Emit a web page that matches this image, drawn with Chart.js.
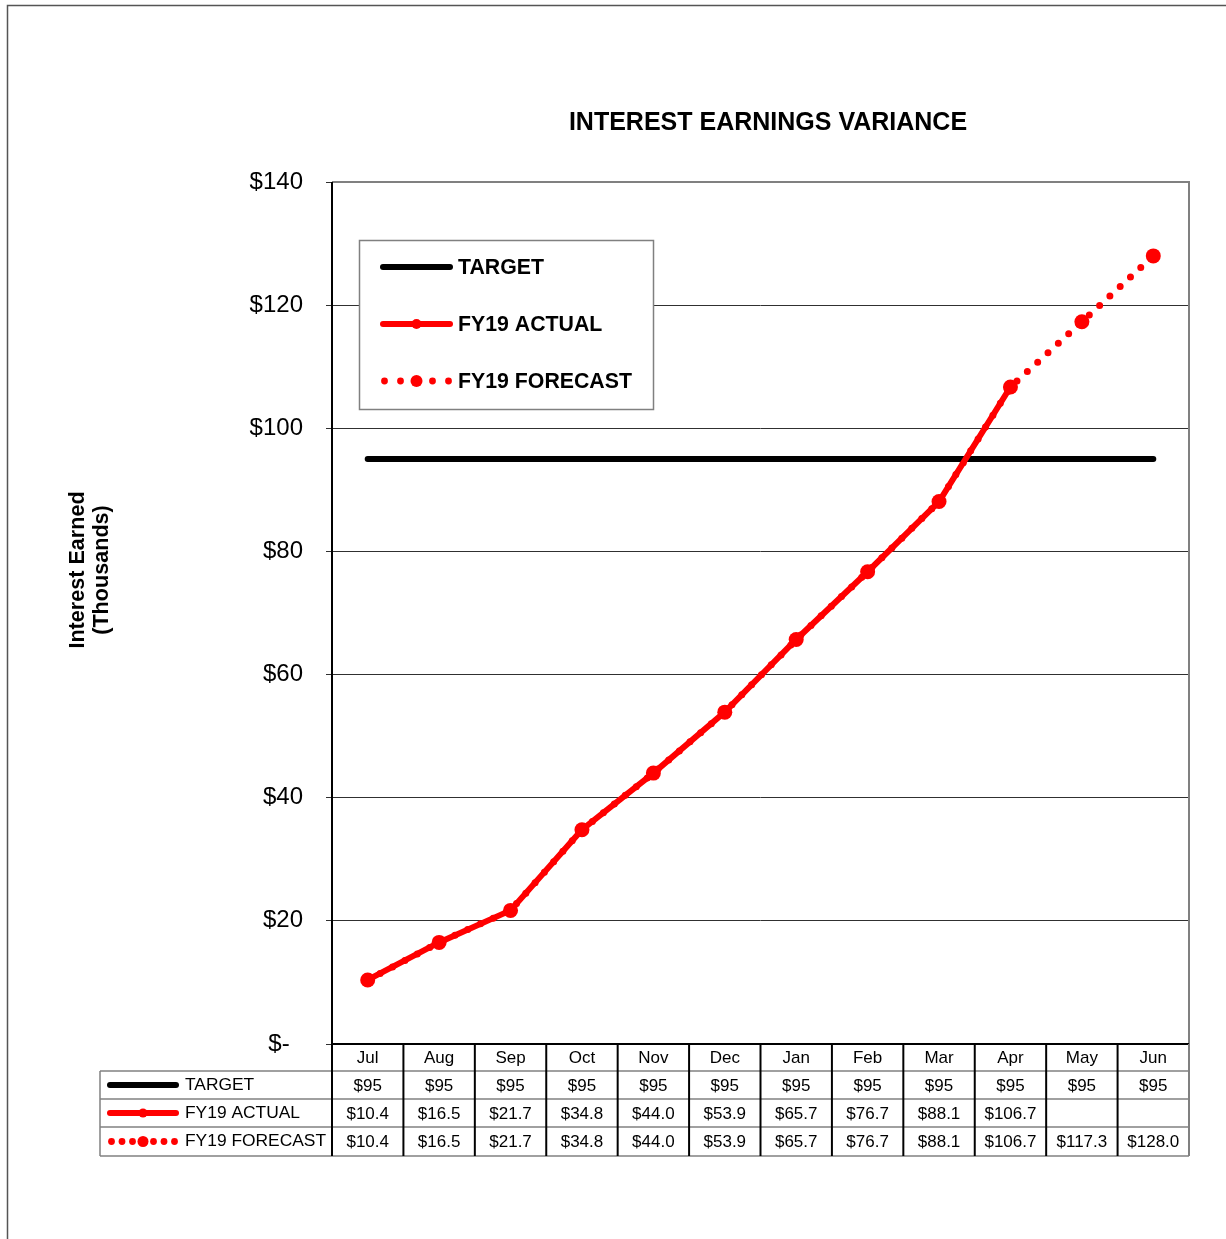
<!DOCTYPE html>
<html>
<head>
<meta charset="utf-8">
<script src="https://cdn.jsdelivr.net/npm/chart.js@4/dist/chart.umd.min.js"></script>
<style>
html,body{margin:0;padding:0;background:#fff;}
#wrap{position:relative;width:1226px;height:1239px;}
</style>
</head>
<body>
<div id="wrap"><canvas id="c"></canvas></div>
<script>
const months = ['Jul','Aug','Sep','Oct','Nov','Dec','Jan','Feb','Mar','Apr','May','Jun'];
const target = [95,95,95,95,95,95,95,95,95,95,95,95];
const actual = [10.4,16.5,21.7,34.8,44.0,53.9,65.7,76.7,88.1,106.7,null,null];
const forecast = [10.4,16.5,21.7,34.8,44.0,53.9,65.7,76.7,88.1,106.7,117.3,128.0];
const yTicks = [0,20,40,60,80,100,120,140];
const seriesNames = ['TARGET','FY19 ACTUAL','FY19 FORECAST'];
const titleText = 'INTEREST EARNINGS VARIANCE';
const yTitle = ['Interest Earned','(Thousands)'];

const RED = '#ff0000';
const FONT = '"Liberation Sans", Arial, sans-serif';

function fmtVal(v, isTarget){
  if (v === null || v === undefined) return '';
  return '$' + (isTarget ? String(Math.round(v)) : v.toFixed(1));
}

function drawSwatch(ctx, kind, x0, x1, y, dotGap, big){
  ctx.save();
  if (kind === 0) {
    ctx.strokeStyle = '#000'; ctx.lineWidth = 6; ctx.lineCap = 'round';
    ctx.beginPath(); ctx.moveTo(x0, y); ctx.lineTo(x1, y); ctx.stroke();
  } else if (kind === 1) {
    ctx.strokeStyle = RED; ctx.lineWidth = 6; ctx.lineCap = 'round';
    ctx.beginPath(); ctx.moveTo(x0, y); ctx.lineTo(x1, y); ctx.stroke();
    ctx.fillStyle = RED; ctx.beginPath(); ctx.arc((x0+x1)/2, y, big, 0, Math.PI*2); ctx.fill();
  } else {
    ctx.fillStyle = RED;
    const mid = (x0+x1)/2;
    for (let k = -3; k <= 3; k++) {
      const x = mid + k*dotGap;
      if (x < x0-2 || x > x1+2) continue;
      ctx.beginPath(); ctx.arc(x, y, k===0 ? big : 3.4, 0, Math.PI*2); ctx.fill();
    }
  }
  ctx.restore();
}

const decor = {
  id: 'decor',
  beforeDraw(chart){
    const ctx = chart.ctx;
    ctx.save();
    ctx.fillStyle = '#fff';
    ctx.fillRect(0,0,chart.width,chart.height);
    ctx.restore();
  },
  afterDraw(chart){
    const ctx = chart.ctx;
    const ca = chart.chartArea;
    const xs = chart.scales.x;
    ctx.save();
    // outer frame
    ctx.strokeStyle = '#555'; ctx.lineWidth = 1.5;
    ctx.beginPath(); ctx.moveTo(7.5, chart.height); ctx.lineTo(7.5, 5.5); ctx.lineTo(chart.width, 5.5); ctx.stroke();

    // plot border (top/right gray)
    ctx.strokeStyle = '#808080'; ctx.lineWidth = 2;
    ctx.beginPath(); ctx.moveTo(ca.left, ca.top); ctx.lineTo(ca.right, ca.top); ctx.lineTo(ca.right, ca.bottom); ctx.stroke();
    ctx.strokeStyle = '#000'; ctx.lineWidth = 2;
    ctx.beginPath(); ctx.moveTo(ca.left, ca.top); ctx.lineTo(ca.left, ca.bottom); ctx.lineTo(ca.right, ca.bottom); ctx.stroke();

    // title
    ctx.fillStyle = '#000';
    ctx.font = 'bold 25px ' + FONT;
    ctx.textAlign = 'center'; ctx.textBaseline = 'middle';
    ctx.fillText(titleText, 768, 123);

    // y title
    ctx.save();
    ctx.translate(90, 570);
    ctx.rotate(-Math.PI/2);
    ctx.font = 'bold 21.6px ' + FONT;
    ctx.fillText(yTitle[0], 0, -12);
    ctx.fillText(yTitle[1], 0, 12);
    ctx.restore();

    // legend box
    const lx = 359, ly = 240, lw = 294, lh = 169;
    ctx.fillStyle = '#fff'; ctx.fillRect(lx, ly, lw, lh);
    ctx.strokeStyle = '#808080'; ctx.lineWidth = 1.5; ctx.strokeRect(lx+0.5, ly+0.5, lw, lh);
    const legY = [267, 324, 381];
    ctx.font = 'bold 21.3px ' + FONT;
    ctx.textAlign = 'left'; ctx.textBaseline = 'middle';
    for (let i = 0; i < 3; i++) {
      drawSwatch(ctx, i, 383, 450, legY[i], 16, i===1 ? 5 : 6);
      ctx.fillStyle = '#000';
      ctx.fillText(seriesNames[i], 458, legY[i]+1);
    }

    // data table
    const colW = ca.width / months.length;
    const rowTops = [ca.bottom, 1071, 1099, 1127, 1156];
    const tLeft = 100;
    ctx.strokeStyle = '#808080'; ctx.lineWidth = 1.5;
    for (let r = 1; r < rowTops.length; r++) {
      ctx.beginPath(); ctx.moveTo(tLeft, rowTops[r]); ctx.lineTo(ca.right, rowTops[r]); ctx.stroke();
    }
    ctx.beginPath(); ctx.moveTo(tLeft, rowTops[1]); ctx.lineTo(tLeft, rowTops[4]); ctx.stroke();
    ctx.lineWidth = 2;
    for (let i = 0; i <= months.length; i++) {
      const x = ca.left + i*colW;
      ctx.strokeStyle = (i === months.length) ? '#808080' : '#000';
      ctx.beginPath(); ctx.moveTo(x, rowTops[0]); ctx.lineTo(x, rowTops[4]); ctx.stroke();
    }
    ctx.fillStyle = '#000';
    ctx.textAlign = 'center'; ctx.textBaseline = 'middle';
    ctx.font = '17px ' + FONT;
    const rowData = [target, actual, forecast];
    for (let i = 0; i < months.length; i++) {
      const cx = xs.getPixelForValue(i);
      ctx.fillText(months[i], cx, (rowTops[0]+rowTops[1])/2 + 1);
      for (let r = 0; r < 3; r++) {
        ctx.fillText(fmtVal(rowData[r][i], r===0), cx, (rowTops[r+1]+rowTops[r+2])/2 + 1);
      }
    }
    ctx.textAlign = 'left';
    ctx.font = '17.4px ' + FONT;
    for (let r = 0; r < 3; r++) {
      const cy = (rowTops[r+1]+rowTops[r+2])/2;
      drawSwatch(ctx, r, 110, 176, cy, 10.5, r===1 ? 4.5 : 5.5);
      ctx.fillStyle = '#000';
      ctx.fillText(seriesNames[r], 185, cy);
    }
    ctx.restore();
  }
};

new Chart(document.getElementById('c'), {
  type: 'line',
  data: {
    labels: months,
    datasets: [
      { label: seriesNames[0], data: target, borderColor: '#000', borderWidth: 6, pointRadius: 0, borderCapStyle: 'round', order: 1 },
      { label: seriesNames[1], data: actual, borderColor: RED, backgroundColor: RED, borderWidth: 6, pointRadius: 6.5, pointBorderWidth: 0, pointBackgroundColor: RED, order: 0 },
      { label: seriesNames[2], data: forecast, borderColor: RED, backgroundColor: RED, borderWidth: 7, borderDash: [0, 14], borderCapStyle: 'round', pointRadius: 7.5, pointBorderWidth: 0, pointBackgroundColor: RED, order: 2 }
    ]
  },
  options: {
    responsive: true,
    maintainAspectRatio: false,
    animation: false,
    devicePixelRatio: 1,
    layout: { padding: { top: 182, bottom: 195, left: 132, right: 37 } },
    plugins: { legend: { display: false }, title: { display: false }, tooltip: { enabled: false } },
    elements: { line: { tension: 0 } },
    scales: {
      x: {
        type: 'category', offset: true,
        grid: { display: false, drawTicks: false },
        border: { display: false },
        ticks: { display: false },
        afterFit(s){ s.height = 0; }
      },
      y: {
        min: 0, max: 140,
        afterBuildTicks(s){ s.ticks = yTicks.map(v => ({ value: v })); },
        ticks: {
          color: '#000', padding: 23,
          font: { family: FONT, size: 24 },
          callback: v => v === 0 ? '$-  ' : '$' + v
        },
        grid: { color: '#303030', lineWidth: 1, tickLength: 6, drawTicks: true },
        border: { display: false },
        afterFit(s){ s.width = 200; }
      }
    }
  },
  plugins: [decor]
});
</script>
</body>
</html>
